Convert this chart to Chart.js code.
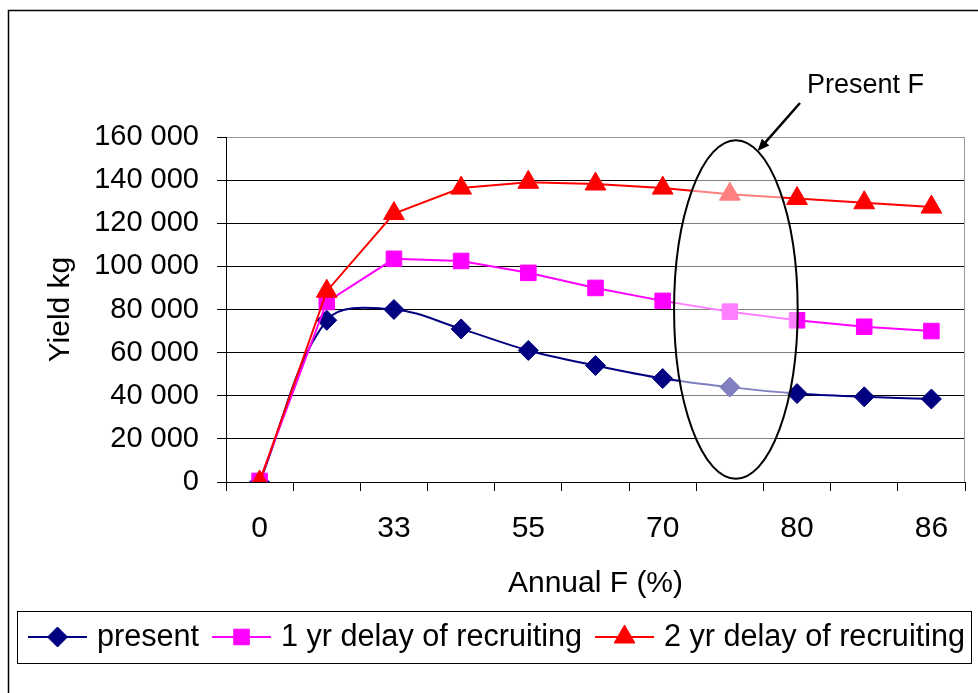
<!DOCTYPE html>
<html>
<head>
<meta charset="utf-8">
<script src="https://cdn.jsdelivr.net/npm/chart.js@4.4.1/dist/chart.umd.min.js"></script>
<style>
  html, body { margin: 0; padding: 0; background: #fff; }
</style>
</head>
<body>
<canvas id="plot1" width="978" height="693"></canvas>
<script>
// Annual F (%) categories, only every second one gets a label in the picture
const fRates = ['0', '18', '33', '45', '55', '63', '70', '75', '80', '83', '86'];
const present = [0, 75000, 80000, 71000, 61000, 54000, 48000, 44000, 41000, 39500, 38500];
const delay1yr = [500, 83500, 103500, 102500, 97000, 90000, 84000, 79000, 75000, 72000, 70000];
const delay2yr = [0, 88500, 124500, 136300, 139000, 138200, 136300, 133500, 131500, 129500, 127500];
const seriesNames = ['present', '1 yr delay of recruiting', '2 yr delay of recruiting'];
const yMax = 160000;
const yStep = 20000;

const FONT = "'Liberation Sans', Arial, sans-serif";

function spaced(v) {
    return String(v).replace(/\B(?=(\d{3})+(?!\d))/g, ' ');
}

function marker(ctx, style, x, y, r, color) {
    ctx.save();
    ctx.fillStyle = color;
    ctx.strokeStyle = color;
    ctx.lineWidth = 1;
    if (Chart.helpers && Chart.helpers.drawPoint) {
        Chart.helpers.drawPoint(ctx, { pointStyle: style, radius: r, rotation: 0, borderWidth: 1 }, x, y);
    }
    ctx.restore();
}

// ellipse + arrow marking the present F, and the boxed legend
const extras = {
    id: 'extras',
    beforeDatasetsDraw(chart) {
        const { ctx, chartArea } = chart;
        // grey plot-area border on the right
        ctx.save();
        ctx.strokeStyle = '#999';
        ctx.lineWidth = 1;
        ctx.beginPath();
        ctx.moveTo(chartArea.right - 0.5, chartArea.top);
        ctx.lineTo(chartArea.right - 0.5, chartArea.bottom);
        ctx.stroke();
        ctx.restore();
    },
    afterDatasetsDraw(chart) {
        const { ctx } = chart;
        const x = chart.scales.x, y = chart.scales.y;
        const step = x.getPixelForValue(1) - x.getPixelForValue(0);
        const cx = x.getPixelForValue(7) + 6;
        const cy = y.getPixelForValue(80000);
        const rx = step * 0.92;
        const ry = cy - y.getPixelForValue(158500);

        ctx.save();
        ctx.beginPath();
        ctx.ellipse(cx, cy, rx, ry, 0, 0, Math.PI * 2);
        ctx.fillStyle = 'rgba(255,255,255,0.5)';
        ctx.fill();
        ctx.lineWidth = 2;
        ctx.strokeStyle = '#000';
        ctx.stroke();

        // arrow from the label to the ellipse
        const t = -Math.PI / 2 + 0.36;
        const tipX = cx + rx * Math.cos(t);
        const tipY = cy + ry * Math.sin(t);
        const sx = 800, sy = 103;
        const ang = Math.atan2(tipY - sy, tipX - sx);
        ctx.beginPath();
        ctx.moveTo(sx, sy);
        ctx.lineTo(tipX - 8 * Math.cos(ang), tipY - 8 * Math.sin(ang));
        ctx.lineWidth = 2.5;
        ctx.stroke();
        ctx.beginPath();
        ctx.moveTo(tipX, tipY);
        ctx.lineTo(tipX - 12 * Math.cos(ang) + 5 * Math.sin(ang), tipY - 12 * Math.sin(ang) - 5 * Math.cos(ang));
        ctx.lineTo(tipX - 12 * Math.cos(ang) - 5 * Math.sin(ang), tipY - 12 * Math.sin(ang) + 5 * Math.cos(ang));
        ctx.closePath();
        ctx.fillStyle = '#000';
        ctx.fill();

        ctx.font = '27px ' + FONT;
        ctx.textAlign = 'left';
        ctx.textBaseline = 'alphabetic';
        ctx.fillText('Present F', 807, 93);
        ctx.restore();
    },
    afterDraw(chart) {
        const { ctx } = chart;
        ctx.save();
        // outer chart border
        ctx.strokeStyle = '#000';
        ctx.lineWidth = 1.5;
        ctx.beginPath();
        ctx.moveTo(8.5, 700);
        ctx.lineTo(8.5, 10.5);
        ctx.lineTo(990, 10.5);
        ctx.stroke();

        // legend box
        ctx.lineWidth = 1;
        ctx.strokeRect(17.5, 611.5, 954, 52);

        ctx.font = '30.6px ' + FONT;
        ctx.textBaseline = 'middle';
        ctx.textAlign = 'left';
        let lx = 28;
        const ly = 637;
        chart.data.datasets.forEach((ds) => {
            ctx.strokeStyle = ds.borderColor;
            ctx.lineWidth = 2;
            ctx.beginPath();
            ctx.moveTo(lx, ly);
            ctx.lineTo(lx + 59, ly);
            ctx.stroke();
            marker(ctx, ds.pointStyle, lx + 29.5, ly, ds.pointRadius, ds.borderColor);
            ctx.fillStyle = '#000';
            ctx.fillText(ds.label, lx + 69, ly + 1);
            lx += 69 + ctx.measureText(ds.label).width + 13;
        });
        ctx.restore();
    }
};

const plot1 = document.getElementById('plot1').getContext('2d');
new Chart(plot1, {
    type: 'line',
    data: {
        labels: fRates,
        datasets: [
            {
                label: seriesNames[0],
                data: present,
                borderColor: '#000080',
                backgroundColor: '#000080',
                pointStyle: 'rectRot',
                pointRadius: 10,
                pointBorderWidth: 1,
                borderWidth: 2,
                tension: 0.35,
                order: 3,
            },
            {
                label: seriesNames[1],
                data: delay1yr,
                borderColor: '#FF00FF',
                backgroundColor: '#FF00FF',
                pointStyle: 'rect',
                pointRadius: 11,
                pointBorderWidth: 1,
                borderWidth: 2,
                tension: 0,
                order: 2,
            },
            {
                label: seriesNames[2],
                data: delay2yr,
                borderColor: '#FF0000',
                backgroundColor: '#FF0000',
                pointStyle: 'triangle',
                pointRadius: 12,
                pointBorderWidth: 1,
                borderWidth: 2,
                tension: 0,
                order: 1,
            }
        ]
    },
    options: {
        responsive: false,
        animation: false,
        devicePixelRatio: 1,
        layout: { padding: { left: 0, top: 137, right: 10, bottom: 0 } },
        scales: {
            y: {
                min: 0,
                max: yMax,
                afterFit: (scale) => { scale.width = 226; },
                ticks: {
                    stepSize: yStep,
                    color: '#000',
                    padding: 18,
                    font: { family: FONT, size: 29 },
                    callback: (v) => spaced(v),
                },
                grid: {
                    color: (c) => (c.tick && c.tick.value === yMax ? '#999' : '#000'),
                    tickColor: '#000',
                    tickLength: 9,
                },
                border: { color: '#000', width: 1 },
                title: {
                    display: true,
                    text: 'Yield kg',
                    color: '#000',
                    font: { family: FONT, size: 30 },
                    padding: { top: 43, bottom: 0 },
                }
            },
            x: {
                offset: true,
                afterFit: (scale) => { scale.height = 211; },
                ticks: {
                    autoSkip: false,
                    maxRotation: 0,
                    color: '#000',
                    padding: 20,
                    font: { family: FONT, size: 30 },
                    callback: function (v, i) { return i % 2 === 0 ? this.getLabelForValue(v) : ''; },
                },
                grid: {
                    offset: true,
                    drawOnChartArea: false,
                    color: '#000',
                    tickLength: 9,
                },
                border: { color: '#000', width: 1 },
                title: {
                    display: true,
                    text: 'Annual F (%)',
                    color: '#000',
                    font: { family: FONT, size: 30 },
                    padding: { top: 0, bottom: 91 },
                }
            }
        },
        plugins: {
            legend: { display: false },
            tooltip: { enabled: false },
        },
    },
    plugins: [extras]
});
</script>
</body>
</html>
